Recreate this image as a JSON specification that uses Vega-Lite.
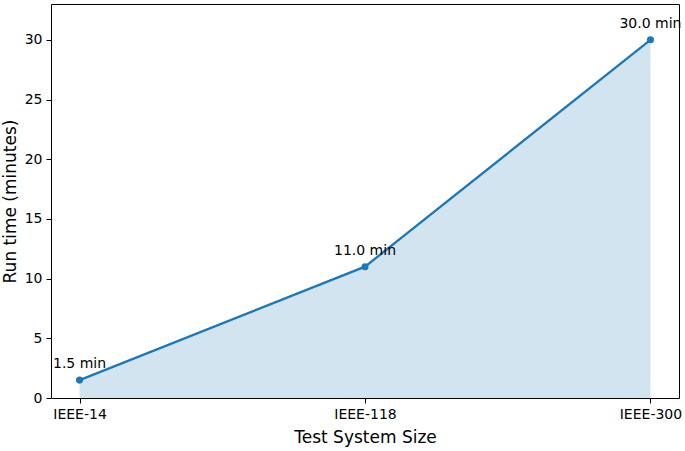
{
  "$schema": "https://vega.github.io/schema/vega-lite/v6.json",
  "width": 628,
  "height": 394,
  "autosize": {"type": "none"},
  "padding": {"left": 51, "top": 4, "right": 6, "bottom": 53},
  "background": "#ffffff",
  "config": {
    "view": {"stroke": "#000000", "strokeWidth": 1},
    "axis": {
      "grid": false,
      "domain": false,
      "tickColor": "#000000",
      "tickSize": 5,
      "tickWidth": 1,
      "labelFont": "DejaVu Sans",
      "labelFontSize": 14,
      "labelColor": "#000000",
      "titleFont": "DejaVu Sans",
      "titleFontSize": 17,
      "titleFontWeight": "normal",
      "titleColor": "#000000"
    }
  },
  "data": {
    "values": [
      {"system": "IEEE-14", "time": 1.5, "label": "1.5 min"},
      {"system": "IEEE-118", "time": 11.0, "label": "11.0 min"},
      {"system": "IEEE-300", "time": 30.0, "label": "30.0 min"}
    ]
  },
  "encoding": {
    "x": {
      "field": "system",
      "type": "ordinal",
      "sort": null,
      "scale": {"type": "point", "padding": 0.1},
      "axis": {"title": "Test System Size", "labelAngle": 0, "labelPadding": 4, "titlePadding": 8}
    },
    "y": {
      "field": "time",
      "type": "quantitative",
      "scale": {"domain": [0, 33], "nice": false, "zero": true},
      "axis": {"values": [0, 5, 10, 15, 20, 25, 30], "title": "Run time (minutes)", "labelPadding": 4, "titleX": -32, "titleY": 197, "titleBaseline": "bottom", "titleAngle": -90, "titleAlign": "center"}
    }
  },
  "layer": [
    {"mark": {"type": "area", "color": "#1f77b4", "opacity": 0.2}},
    {"mark": {"type": "line", "color": "#1f77b4", "strokeWidth": 2.3, "point": {"size": 50, "filled": true, "color": "#1f77b4", "opacity": 1}}},
    {
      "mark": {"type": "text", "dy": -12, "baseline": "alphabetic", "align": "center", "font": "DejaVu Sans", "fontSize": 14, "color": "#000000", "clip": false},
      "encoding": {"text": {"field": "label"}}
    }
  ]
}
